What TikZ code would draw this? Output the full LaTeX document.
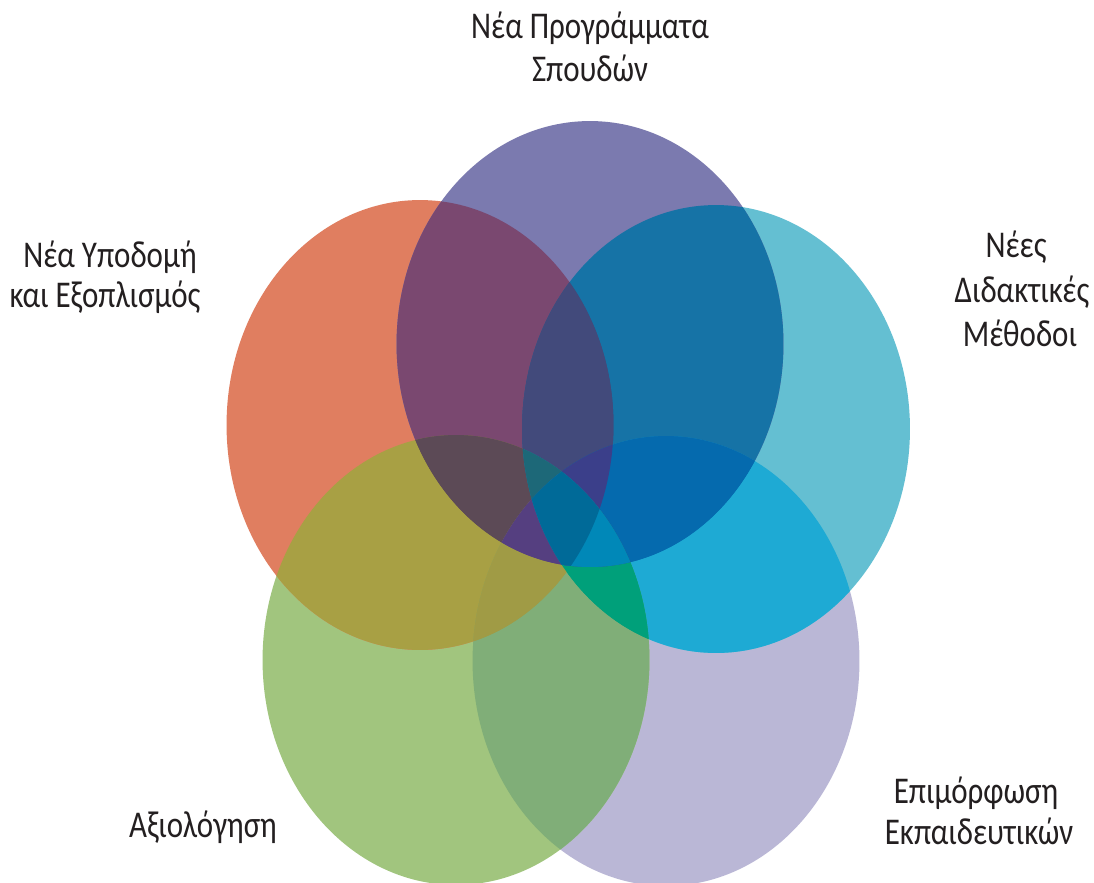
\documentclass[tikz,border=0pt]{standalone}
\usepackage{fontspec}
\setmainfont{Carlito}[FakeStretch=0.82]
\definecolor{cP}{HTML}{7B7AAF}
\definecolor{cR}{HTML}{E07E60}
\definecolor{cC}{HTML}{64BFD2}
\definecolor{cG}{HTML}{A1C57E}
\definecolor{cL}{HTML}{BAB7D6}
\definecolor{cPR}{HTML}{7A4870}
\definecolor{cPC}{HTML}{1673A6}
\definecolor{cRG}{HTML}{A8A044}
\definecolor{cCL}{HTML}{1EAAD4}
\definecolor{cGL}{HTML}{80AE78}
\definecolor{cPRC}{HTML}{424A7B}
\definecolor{cPRG}{HTML}{5C4A56}
\definecolor{cPCL}{HTML}{056AAE}
\definecolor{cRGL}{HTML}{A09B45}
\definecolor{cCGL}{HTML}{00A07A}
\definecolor{cPRCL}{HTML}{3B3F8A}
\definecolor{cPRCG}{HTML}{1D6878}
\definecolor{cPRGL}{HTML}{553F80}
\definecolor{cPCGL}{HTML}{0088B8}
\definecolor{cAll}{HTML}{006A98}
\definecolor{txt}{HTML}{231F20}
\newcommand\ellP{(590,344) ellipse [x radius=3.87cm, y radius=4.46cm]}
\newcommand\ellR{(420,425) ellipse [x radius=3.87cm, y radius=4.50cm]}
\newcommand\ellC{(716,429) ellipse [x radius=3.88cm, y radius=4.48cm]}
\newcommand\ellG{(456,660) ellipse [x radius=3.87cm, y radius=4.50cm]}
\newcommand\ellL{(666,661) ellipse [x radius=3.87cm, y radius=4.50cm]}
\newcommand\fillTwo[3]{\begin{scope}\clip #1;\fill[#3] #2;\end{scope}}
\newcommand\fillThree[4]{\begin{scope}\clip #1;\clip #2;\fill[#4] #3;\end{scope}}
\newcommand\fillFour[5]{\begin{scope}\clip #1;\clip #2;\clip #3;\fill[#5] #4;\end{scope}}
\newcommand\fillFive[6]{\begin{scope}\clip #1;\clip #2;\clip #3;\clip #4;\fill[#6] #5;\end{scope}}
\tikzset{lbl/.style={anchor=base, inner sep=0pt, text=txt, font=\fontsize{21.5}{25}\selectfont}}
\begin{document}
\begin{tikzpicture}[x=0.02cm,y=-0.02cm]
\useasboundingbox (0,0) rectangle (1094,882);
\fill[white] (0,0) rectangle (1094,882);
% single ellipses
\fill[cL] \ellL;
\fill[cG] \ellG;
\fill[cC] \ellC;
\fill[cR] \ellR;
\fill[cP] \ellP;
% pairs
\fillTwo{\ellP}{\ellR}{cPR}
\fillTwo{\ellP}{\ellC}{cPC}
\fillTwo{\ellR}{\ellG}{cRG}
\fillTwo{\ellC}{\ellL}{cCL}
\fillTwo{\ellG}{\ellL}{cGL}
\fillTwo{\ellP}{\ellG}{cPRG}
\fillTwo{\ellP}{\ellL}{cPCL}
\fillTwo{\ellR}{\ellC}{cPRC}
\fillTwo{\ellR}{\ellL}{cRGL}
\fillTwo{\ellC}{\ellG}{cCGL}
% triples
\fillThree{\ellP}{\ellR}{\ellC}{cPRC}
\fillThree{\ellP}{\ellR}{\ellG}{cPRG}
\fillThree{\ellP}{\ellC}{\ellL}{cPCL}
\fillThree{\ellR}{\ellG}{\ellL}{cRGL}
\fillThree{\ellC}{\ellG}{\ellL}{cCGL}
\fillThree{\ellP}{\ellG}{\ellL}{cPRGL}
\fillThree{\ellP}{\ellC}{\ellG}{cPCGL}
% quadruples
\fillFour{\ellP}{\ellR}{\ellC}{\ellL}{cPRCL}
\fillFour{\ellP}{\ellR}{\ellC}{\ellG}{cPRCG}
\fillFour{\ellP}{\ellR}{\ellG}{\ellL}{cPRGL}
\fillFour{\ellP}{\ellC}{\ellG}{\ellL}{cPCGL}
% all five
\fillFive{\ellP}{\ellR}{\ellC}{\ellG}{\ellL}{cAll}
% labels
\node[lbl] (top1) at (590,39) {Νέα Προγράμματα};
\node[lbl] (top2) at (590,82) {Σπουδών};
\node[lbl] (left1) at (110,267) {Νέα Υποδομή};
\node[lbl] (left2) at (105,307) {και Εξοπλισμός};
\node[lbl] (right1) at (1016,257) {Νέες};
\node[lbl] (right2) at (1022,302) {Διδακτικές};
\node[lbl] (right3) at (1020,346) {Μέθοδοι};
\node[lbl] (bl) at (203,837) {Αξιολόγηση};
\node[lbl] (br1) at (976,803) {Επιμόρφωση};
\node[lbl] (br2) at (979,844) {Εκπαιδευτικών};
\end{tikzpicture}
\end{document}
